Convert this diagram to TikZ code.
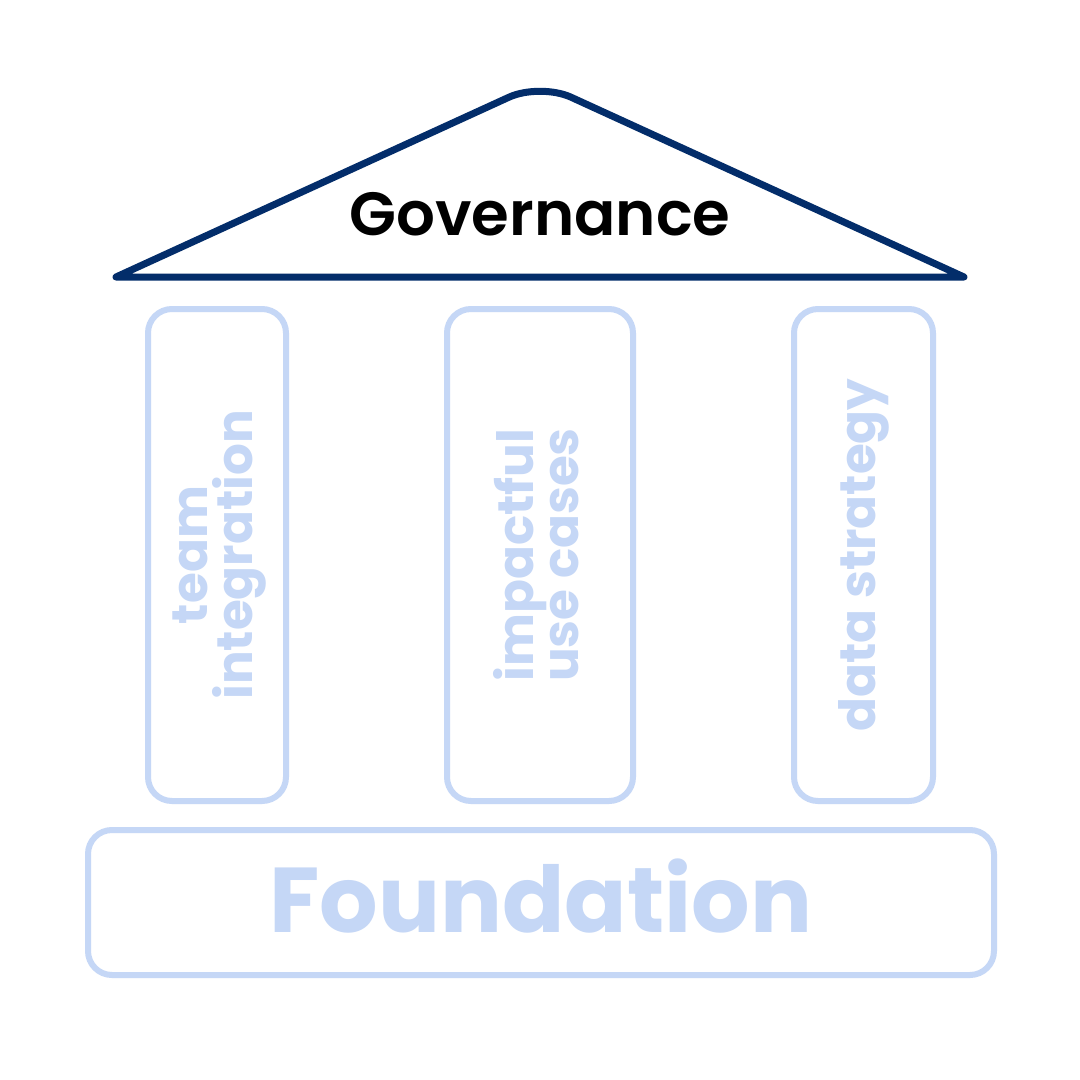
\documentclass[tikz,border=0pt]{standalone}
\usepackage{fontspec}
\setmainfont{Poppins}
\IfFontExistsTF{Poppins SemiBold}{\newfontfamily\govfont{Poppins SemiBold}}{\newfontfamily\govfont{Poppins}[UprightFont=*-Bold]}
\definecolor{navy}{HTML}{032D6A}
\definecolor{lblue}{HTML}{C5D7F6}
\begin{document}
\begin{tikzpicture}[x=1pt,y=-1pt,
  pillar/.style={draw=lblue,line width=6pt,rounded corners=24pt},
  ptext/.style={text=lblue,font=\fontsize{50}{45}\selectfont\bfseries,rotate=90,align=center,inner sep=0pt}]
\useasboundingbox[fill=white] (0,0) rectangle (1080,1080);
% roof
\draw[navy,line width=7pt,line join=round,line cap=round]
  (116,277) [rounded corners=34pt]-- (540,83) [sharp corners]-- (964,277) -- cycle;
\node (gov) at (540,214) {\fontsize{61}{64}\selectfont\govfont Governance};
% pillars
\draw[pillar] (148,309) rectangle (286,801);
\draw[pillar] (447,309) rectangle (633,801);
\draw[pillar] (794,309) rectangle (933,801);
\draw[pillar] (88,830) rectangle (994,975);
\node[ptext] (p1) at (220,555) {team\\integration};
\node[ptext] (p2) at (536,555) {impactful\\use cases};
\node[ptext] (p3) at (864,555) {data strategy};
\node[text=lblue] (f) at (541,896) {\fontsize{92}{94}\selectfont\bfseries Foundation};
\end{tikzpicture}
\end{document}
